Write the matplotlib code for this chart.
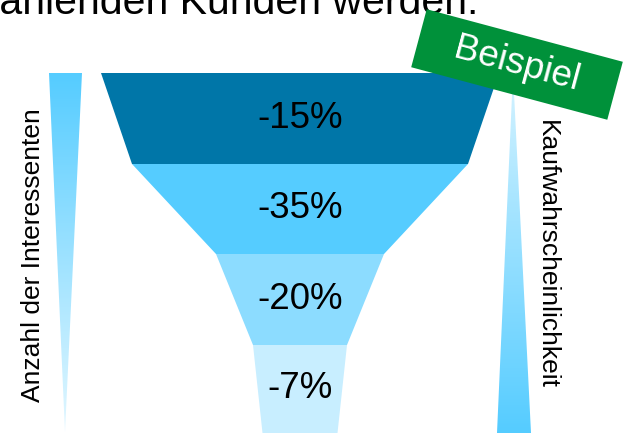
import numpy as np
import matplotlib
matplotlib.use('Agg')
import matplotlib.pyplot as plt
from matplotlib.patches import Polygon, Rectangle
from matplotlib.colors import LinearSegmentedColormap

plt.rcParams['font.family'] = ['Liberation Sans', 'DejaVu Sans']

# funnel data (drop per stage)
stage_labels = ['-15%', '-35%', '-20%', '-7%']
stage_colors = ['#0076A8', '#55CCFF', '#8CDCFF', '#C8EEFF']
left_label = 'Anzahl der Interessenten'
right_label = 'Kaufwahrscheinlichkeit'
badge_text = 'Beispiel'
title_text = 'zahlenden Kunden werden.'

# layout (pixel space, y grows downward)
W, H = 625, 433
cx = 300
edge_y = [73, 164, 254, 345, 433]
edge_half = [199, 168, 84, 47, 37.5]

fig = plt.figure(figsize=(W / 100, H / 100), dpi=100)
ax = fig.add_axes([0, 0, 1, 1])
ax.set_xlim(0, W)
ax.set_ylim(H, 0)
ax.axis('off')

# funnel segments
for i, lab in enumerate(stage_labels):
    y0, y1 = edge_y[i], edge_y[i + 1]
    h0, h1 = edge_half[i], edge_half[i + 1]
    pts = [(cx - h0, y0), (cx + h0, y0), (cx + h1, y1), (cx - h1, y1)]
    ax.add_patch(Polygon(pts, closed=True, facecolor=stage_colors[i],
                         edgecolor='none', zorder=2))
    ax.text(cx, (y0 + y1) / 2, lab, ha='center', va='center',
            fontsize=26.5, color='black', zorder=3)


def gradient_triangle(pts, c_top, c_bottom):
    poly = Polygon(pts, closed=True, facecolor='none', edgecolor='none')
    ax.add_patch(poly)
    xs = [p[0] for p in pts]
    ys = [p[1] for p in pts]
    cmap = LinearSegmentedColormap.from_list('g', [c_top, c_bottom])
    grad = np.linspace(0, 1, 256).reshape(-1, 1)
    im = ax.imshow(grad, cmap=cmap, aspect='auto', origin='upper',
                   extent=(min(xs), max(xs), max(ys), min(ys)), zorder=2)
    im.set_clip_path(poly)


gradient_triangle([(49, 73), (82, 73), (65, 432)], '#55CCFF', '#E2F7FF')
gradient_triangle([(513, 73), (531, 433), (497, 433)], '#D6F3FF', '#55CCFF')

ax.set_xlim(0, W)
ax.set_ylim(H, 0)

ax.text(33, 255, left_label, rotation=90, ha='center', va='center',
        fontsize=19, color='black')
ax.text(547, 255, right_label, rotation=-90, ha='center', va='center',
        fontsize=19, color='black')

# badge
bw, bh = 203, 60
bx, by = 517, 64.5
ax.add_patch(Rectangle((bx - bw / 2, by - bh / 2), bw, bh, angle=15,
                       rotation_point='center', facecolor='#00913A',
                       edgecolor='none', zorder=5))
ax.text(bx, by, badge_text, rotation=-15, ha='center', va='center',
        fontsize=26.5, color='white', zorder=6, rotation_mode='anchor')

# cut-off heading
ax.text(478, 14, title_text, ha='right', va='baseline', fontsize=29.5,
        color='black', clip_on=False)

fig.savefig('out.png', dpi=100)
